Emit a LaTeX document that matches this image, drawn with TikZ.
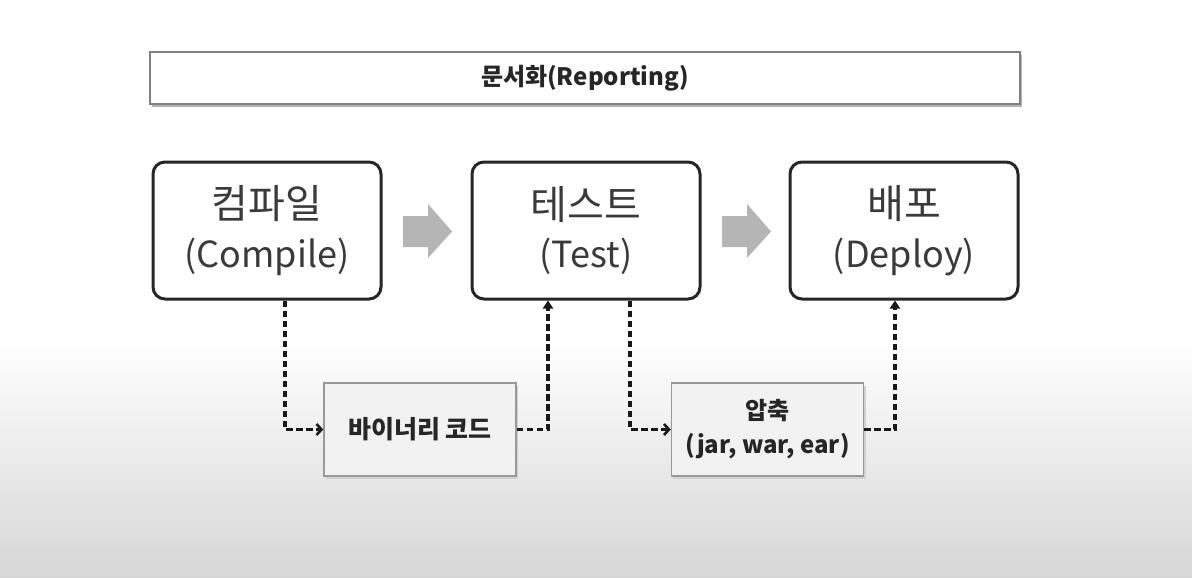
\documentclass[tikz,border=0pt]{standalone}
\usepackage{fontspec}
\setmainfont{Noto Sans CJK KR}
\usetikzlibrary{arrows.meta,calc}
\definecolor{bgbottom}{HTML}{D6D6D6}
\definecolor{arrowgray}{HTML}{B5B5B5}
\definecolor{txt}{HTML}{3A3A3A}
\newcommand{\korbig}{\fontsize{40}{40}\selectfont}
\newcommand{\latbig}{\fontsize{36}{36}\selectfont}
\begin{document}
\begin{tikzpicture}[x=1pt,y=-1pt,
  stagebox/.style={draw=black!85, line width=3pt, rounded corners=12pt, fill=white,
    minimum width=228pt, minimum height=137pt, align=center, text=txt,
    inner sep=0pt},
  subbox/.style={draw=black!40, line width=1.5pt, fill=black!5,
    minimum width=192pt, minimum height=93pt, align=center, text=black!85,
    font=\bfseries\fontsize{24}{34}\selectfont, inner sep=0pt},
  topbox/.style={draw=black!50, line width=2pt, fill=white,
    minimum width=870pt, minimum height=52pt, text=black!85,
    font=\bfseries\fontsize{24}{28}\selectfont, inner sep=0pt},
  dashconn/.style={draw=black!90, line width=3.3pt, dash pattern=on 6.5pt off 3.5pt},
  uptip/.style={-{Triangle[length=8pt,width=10pt]}},
  righttip/.style={-{Straight Barb[length=5pt,width=11pt,line width=2.6pt]}},
  flowarrow/.style={fill=arrowgray, draw=none}
]
% background
\fill[white] (0,0) rectangle (1192,578);
\shade[top color=white, bottom color=bgbottom] (0,340) rectangle (1192,578);
\useasboundingbox (0,0) rectangle (1192,578);

% top reporting bar
\fill[black!30] (152,55) rectangle (1022,107);
\node[topbox] (report) at (585,78) {문서화(Reporting)};

% stage boxes
\node[stagebox] (compile) at (267,230.5) {{\korbig 컴파일}\\[15pt]{\latbig (Compile)}};
\node[stagebox] (test) at (586,230.5) {{\korbig 테스트}\\[15pt]{\latbig (Test)}};
\node[stagebox] (deploy) at (904,230.5) {{\korbig 배포}\\[15pt]{\latbig (Deploy)}};

% gray flow arrows
\fill[flowarrow] (403,216) -- (428,216) -- (428,204) -- (452,231.5) -- (428,258) -- (428,247) -- (403,247) -- cycle;
\fill[flowarrow] (722,216) -- (747,216) -- (747,204) -- (771,231.5) -- (747,258) -- (747,247) -- (722,247) -- cycle;

% sub boxes (with faint shadow)
\fill[black!18] (326,386) rectangle (518,479);
\node[subbox, font=\bfseries\fontsize{25}{34}\selectfont] (binary) at (420,429.5) {바이너리 코드};
\fill[black!18] (673,386) rectangle (866,479);
\node[subbox] (zip) at (767.5,429.5) {압축\\(jar, war, ear)};

% dashed connectors
\draw[dashconn, righttip] ([xshift=18]compile.south) |- (binary.west);
\draw[dashconn, uptip] (binary.east) -| ([xshift=-38]test.south);
\draw[dashconn, righttip] ([xshift=44]test.south) |- (zip.west);
\draw[dashconn, uptip] (zip.east) -| ([xshift=-9]deploy.south);
\end{tikzpicture}
\end{document}
